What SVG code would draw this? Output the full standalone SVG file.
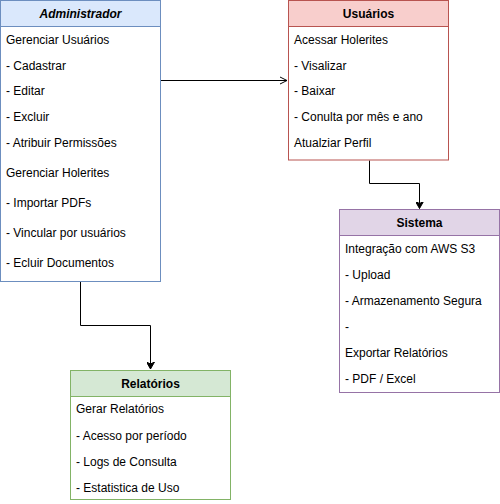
<svg xmlns="http://www.w3.org/2000/svg" width="500" height="504" viewBox="0 0 500 504">
<style>
text{font-family:"Liberation Sans",Arial,sans-serif;font-size:12px;fill:#000}
.t{font-weight:bold;text-anchor:middle}
.it{font-style:italic}
.c{fill:none;stroke:#000;stroke-width:1}
</style>
<defs>
<marker id="fa" markerWidth="8" markerHeight="8" refX="7" refY="4" orient="auto" markerUnits="userSpaceOnUse">
<path d="M0,0 L7,4 L0,8 L2,4 Z" fill="#000" stroke="#000" stroke-width="1"/>
</marker>
<marker id="oa" markerWidth="10" markerHeight="10" refX="8" refY="5" orient="auto" markerUnits="userSpaceOnUse">
<path d="M1,1.5 L8,5 L1,8.5" fill="none" stroke="#000" stroke-width="1"/>
</marker>
</defs>
<rect width="500" height="504" fill="#fff"/>
<g id="connectors">
<path class="c" d="M160.5,80.5 H287" marker-end="url(#oa)"/>
<path class="c" d="M80.5,281.5 V325.5 H150.5 V369" marker-end="url(#fa)"/>
<path class="c" d="M369.5,160.5 V183.5 H419.5 V208.5" marker-end="url(#fa)"/>
</g>
<g id="administrador">
<rect x="0.5" y="0.5" width="160" height="281" fill="#fff" stroke="#6c8ebf"/>
<rect x="0.5" y="0.5" width="160" height="26" fill="#dae8fc" stroke="#6c8ebf"/>
<text class="t it" x="80.5" y="18">Administrador</text>
<text x="6" y="44">Gerenciar Usuários</text>
<text x="6" y="70">- Cadastrar</text>
<text x="6" y="95">- Editar</text>
<text x="6" y="121">- Excluir</text>
<text x="6" y="147">- Atribuir Permissões</text>
<text x="6" y="177">Gerenciar Holerites</text>
<text x="6" y="207">- Importar PDFs</text>
<text x="6" y="237">- Vincular por usuários</text>
<text x="6" y="267">- Ecluir Documentos</text>
</g>
<g id="usuarios">
<rect x="288.5" y="0.5" width="160" height="159.5" fill="#fff" stroke="#b85450"/>
<rect x="288.5" y="0.5" width="160" height="26" fill="#f8cecc" stroke="#b85450"/>
<text class="t" x="368.5" y="18">Usuários</text>
<text x="294" y="44">Acessar Holerites</text>
<text x="294" y="70">- Visalizar</text>
<text x="294" y="95">- Baixar</text>
<text x="294" y="121">- Conulta por mês e ano</text>
<text x="294" y="147">Atualziar Perfil</text>
</g>
<g id="sistema">
<rect x="339.5" y="209.5" width="160" height="183" fill="#fff" stroke="#9673a6"/>
<rect x="339.5" y="209.5" width="160" height="26" fill="#e1d5e7" stroke="#9673a6"/>
<text class="t" x="419.5" y="227">Sistema</text>
<text x="345" y="253">Integração com AWS S3</text>
<text x="345" y="279">- Upload</text>
<text x="345" y="305">- Armazenamento Segura</text>
<text x="345" y="331">-</text>
<text x="345" y="357">Exportar Relatórios</text>
<text x="345" y="383">- PDF / Excel</text>
</g>
<g id="relatorios">
<rect x="70.5" y="370.5" width="160" height="129" fill="#fff" stroke="#82b366"/>
<rect x="70.5" y="370.5" width="160" height="26" fill="#d5e8d4" stroke="#82b366"/>
<text class="t" x="150.5" y="388">Relatórios</text>
<text x="76" y="413">Gerar Relatórios</text>
<text x="76" y="440">- Acesso por período</text>
<text x="76" y="466">- Logs de Consulta</text>
<text x="76" y="492">- Estatistica de Uso</text>
</g>
</svg>
